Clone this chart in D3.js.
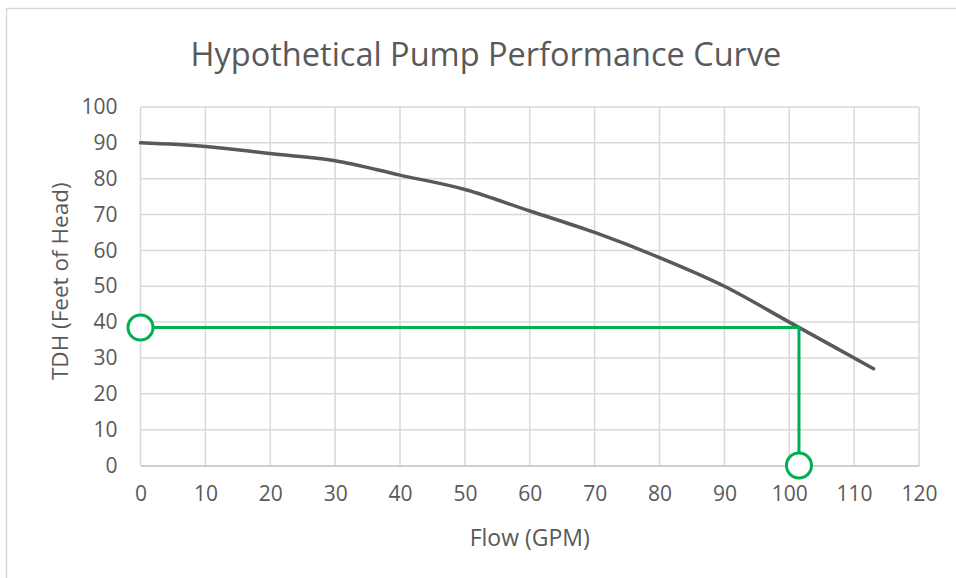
<!DOCTYPE html>
<html>
<head>
<meta charset="utf-8">
<script src="https://cdn.jsdelivr.net/npm/d3@7"></script>
<style>
  body { margin: 0; background: #fff; }
  text { font-family: "Open Sans", sans-serif; fill: #595959; }
</style>
</head>
<body>
<script>
// pump curve
const flow = [0, 10, 20, 30, 40, 50, 60, 70, 80, 90, 100, 113];
const head = [90, 89, 87, 85, 81, 77, 71, 65, 58, 50, 40, 27];

// operating point guide
const opFlow = 101.5;
const opHead = 38.5;

const xTicks = [0, 10, 20, 30, 40, 50, 60, 70, 80, 90, 100, 110, 120];
const yTicks = [0, 10, 20, 30, 40, 50, 60, 70, 80, 90, 100];

const width = 956, height = 578;
const margin = { top: 107, right: 37, bottom: 112.5, left: 140.5 };

const svg = d3.select("body").append("svg")
  .attr("width", width)
  .attr("height", height);

// chart frame
svg.append("rect")
  .attr("x", 6.5).attr("y", 8.5)
  .attr("width", width).attr("height", height)
  .attr("fill", "none")
  .attr("stroke", "#d9d9d9")
  .attr("stroke-width", 1.5);

const x = d3.scaleLinear()
  .domain([0, 120])
  .range([margin.left, width - margin.right]);

const y = d3.scaleLinear()
  .domain([0, 100])
  .range([height - margin.bottom, margin.top]);

// gridlines
svg.append("g")
  .selectAll("line")
  .data(yTicks.filter(d => d > 0))
  .join("line")
  .attr("x1", x(0)).attr("x2", x(120))
  .attr("y1", d => y(d)).attr("y2", d => y(d))
  .attr("stroke", "#d9d9d9")
  .attr("stroke-width", 1.5);

svg.append("g")
  .selectAll("line")
  .data(xTicks)
  .join("line")
  .attr("x1", d => x(d)).attr("x2", d => x(d))
  .attr("y1", y(0)).attr("y2", y(100))
  .attr("stroke", "#d9d9d9")
  .attr("stroke-width", 1.5);

// x axis
svg.append("g")
  .attr("transform", `translate(0,${y(0)})`)
  .call(d3.axisBottom(x).tickValues(xTicks).tickSize(0).tickPadding(21))
  .call(g => g.select(".domain").attr("stroke", "#bfbfbf").attr("stroke-width", 1.5))
  .call(g => g.selectAll("text").attr("font-size", 21).attr("fill", "#595959")
    .style("font-family", "Open Sans"));

// y axis
svg.append("g")
  .attr("transform", `translate(${x(0)},0)`)
  .call(d3.axisLeft(y).tickValues(yTicks).tickSize(0).tickPadding(23))
  .call(g => g.select(".domain").remove())
  .call(g => g.selectAll("text").attr("font-size", 21).attr("fill", "#595959")
    .style("font-family", "Open Sans"));

// pump curve
const pts = flow.map((f, i) => [f, head[i]]);
const line = d3.line()
  .x(d => x(d[0]))
  .y(d => y(d[1]))
  .curve(d3.curveMonotoneX);

svg.append("path")
  .datum(pts)
  .attr("fill", "none")
  .attr("stroke", "#595959")
  .attr("stroke-width", 3.5)
  .attr("stroke-linecap", "round")
  .attr("d", line);

// operating point guide
const green = "#00b050";
svg.append("path")
  .attr("fill", "none")
  .attr("stroke", green)
  .attr("stroke-width", 3)
  .attr("d", d3.line()([[x(0), y(opHead)], [x(opFlow), y(opHead)], [x(opFlow), y(0)]]));

svg.append("g")
  .selectAll("circle")
  .data([[0, opHead], [opFlow, 0]])
  .join("circle")
  .attr("cx", d => x(d[0]))
  .attr("cy", d => y(d[1]))
  .attr("r", 12.5)
  .attr("fill", "#fff")
  .attr("stroke", green)
  .attr("stroke-width", 3);

// titles
svg.append("text")
  .attr("x", 486).attr("y", 66)
  .attr("text-anchor", "middle")
  .attr("font-size", 32.5)
  .text("Hypothetical Pump Performance Curve");

svg.append("text")
  .attr("x", x(60)).attr("y", 546)
  .attr("text-anchor", "middle")
  .attr("font-size", 23)
  .text("Flow (GPM)");

svg.append("text")
  .attr("transform", `translate(68,${(y(0) + y(100)) / 2 - 5}) rotate(-90)`)
  .attr("text-anchor", "middle")
  .attr("font-size", 22.5)
  .text("TDH (Feet of Head)");
</script>
</body>
</html>
